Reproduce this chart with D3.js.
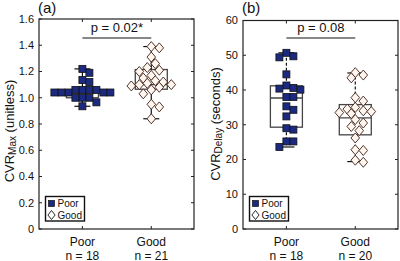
<!DOCTYPE html>
<html><head><meta charset="utf-8">
<script src="https://cdn.jsdelivr.net/npm/d3@7"></script>
<style>body{margin:0;background:#fff;} svg{display:block;font-family:"Liberation Sans",Arial,sans-serif;}</style>
</head><body><svg id="c" width="400" height="261"></svg>
<script>
const categories = ["Poor", "Good"];
const cvrMaxPoor = [1.22,1.19,1.135,1.12,1.06,1.06,1.06,1.06,1.04,1.04,1.04,1.04,1.04,1.00,1.00,1.00,0.965,0.935];
const cvrMaxGood = [1.39,1.38,1.31,1.26,1.23,1.21,1.20,1.17,1.15,1.13,1.12,1.11,1.10,1.10,1.09,1.08,1.06,1.03,0.95,0.93,0.84];
const cvrDelayPoor = [50.7,49.7,49.4,44.5,41.3,40.6,40.4,40.1,38.0,38.0,35.3,34.3,32.4,29.0,28.6,25.2,25.2,23.6];
const cvrDelayGood = [45.0,44.3,43.5,37.8,36.8,35.0,34.5,34.0,33.8,33.5,33.2,31.5,30.5,29.5,28.3,26.2,22.8,22.6,19.8,19.2];
// box summaries: [lower whisker, Q1, median, Q3, upper whisker]
const cvrMaxBoxPoor = [0.935,1.00,1.04,1.06,1.22];
const cvrMaxBoxGood = [0.84,1.065,1.10,1.215,1.39];
const cvrDelayBoxPoor = [23.6,29.3,37.7,41.2,50.7];
const cvrDelayBoxGood = [19.4,27.1,32.0,35.8,44.9];
const cvrMaxTicks = [0,0.2,0.4,0.6,0.8,1.0,1.2,1.4,1.6];
const cvrMaxTickLabels = ["0","0.2","0.4","0.6","0.8","1.0","1.2","1.4","1.6"];
const cvrDelayTicks = [0,10,20,30,40,50,60];
const pLabels = ["p = 0.02*", "p = 0.08"];
const panelLabels = ["(a)", "(b)"];

const svg = d3.select("#c");
const SQ = "#1b2a80", DIA_FILL = "#fff6ee", DIA_STROKE = "#3e1e18";

const panels = [
  {left:39, top:19, groups:[cvrMaxPoor, cvrMaxGood], boxes:[cvrMaxBoxPoor, cvrMaxBoxGood],
   ticks:cvrMaxTicks, tickLabels:cvrMaxTickLabels, ymax:1.6, p:pLabels[0], tag:panelLabels[0],
   ylab:["CVR","Max"," (unitless)"], ylabX:14, ylabY:131, dash:null},
  {left:243, top:20.5, groups:[cvrDelayPoor, cvrDelayGood], boxes:[cvrDelayBoxPoor, cvrDelayBoxGood],
   ticks:cvrDelayTicks, tickLabels:cvrDelayTicks.map(String), ymax:60, p:pLabels[1], tag:panelLabels[1],
   ylab:["CVR","Delay"," (seconds)"], ylabX:220, ylabY:124, dash:"3,2"}
];

function swarm(vals, y, cx, size, diamond) {
  const placed = [];
  vals.forEach(v => {
    const py = y(v);
    for (let i = 0; i < 60; i++) {
      const k = i === 0 ? 0 : (i % 2 ? (i + 1) / 2 : -i / 2);
      const px = cx + k * size * 0.5;
      const hit = placed.some(q => {
        const dx = Math.abs(q.x - px), dy = Math.abs(q.y - py);
        return diamond ? (dx / size + dy / (size * 1.1)) < 1.0 : (dx < size * 0.95 && dy < size * 0.95);
      });
      if (!hit) { placed.push({x:px, y:py, v}); break; }
    }
  });
  return placed;
}

panels.forEach(P => {
  const W = 155, bottom = 229;
  const x = d3.scaleLinear().domain([0.37, 2.62]).range([P.left, P.left + W]);
  const y = d3.scaleLinear().domain([0, P.ymax]).range([bottom, P.top]);
  const g = svg.append("g");

  g.append("rect").attr("x", P.left).attr("y", P.top).attr("width", W).attr("height", bottom - P.top)
    .attr("fill", "none").attr("stroke", "#222").attr("stroke-width", 1.2);

  P.ticks.forEach((t, i) => {
    const yy = y(t);
    g.append("line").attr("x1", P.left).attr("x2", P.left + 3).attr("y1", yy).attr("y2", yy).attr("stroke", "#222");
    g.append("line").attr("x1", P.left + W).attr("x2", P.left + W - 3).attr("y1", yy).attr("y2", yy).attr("stroke", "#222");
    g.append("text").attr("x", P.left - 5).attr("y", yy).attr("dy", "0.36em").attr("text-anchor", "end")
      .attr("font-size", 11).attr("fill", "#111").text(P.tickLabels[i]);
  });
  categories.forEach((c, i) => {
    const xx = x(i + 1);
    g.append("line").attr("x1", xx).attr("x2", xx).attr("y1", bottom).attr("y2", bottom - 3).attr("stroke", "#222");
    g.append("line").attr("x1", xx).attr("x2", xx).attr("y1", P.top).attr("y2", P.top + 3).attr("stroke", "#222");
    g.append("text").attr("x", xx).attr("y", 245.5).attr("text-anchor", "middle").attr("font-size", 12).attr("fill", "#111").text(c);
    g.append("text").attr("x", xx).attr("y", 259.5).attr("text-anchor", "middle").attr("font-size", 12).attr("fill", "#111")
      .text("n = " + P.groups[i].length);
  });

  P.boxes.forEach((b, i) => {
    const cx = x(i + 1), hw = 16, cw = 8;
    const bg = g.append("g").attr("stroke", "#444").attr("stroke-width", 1.3).attr("fill", "none");
    bg.append("rect").attr("x", cx - hw).attr("y", y(b[3])).attr("width", 2 * hw).attr("height", y(b[1]) - y(b[3]));
    bg.append("line").attr("x1", cx - hw).attr("x2", cx + hw).attr("y1", y(b[2])).attr("y2", y(b[2]));
    const wl = bg.append("g").attr("stroke", "#111").attr("stroke-width", 1.2);
    wl.append("line").attr("x1", cx).attr("x2", cx).attr("y1", y(b[3])).attr("y2", y(b[4])).attr("stroke-dasharray", P.dash);
    wl.append("line").attr("x1", cx).attr("x2", cx).attr("y1", y(b[1])).attr("y2", y(b[0])).attr("stroke-dasharray", P.dash);
    wl.append("line").attr("x1", cx - cw).attr("x2", cx + cw).attr("y1", y(b[4])).attr("y2", y(b[4]));
    wl.append("line").attr("x1", cx - cw).attr("x2", cx + cw).attr("y1", y(b[0])).attr("y2", y(b[0]));
  });

  const poor = swarm(P.groups[0], y, x(1), 7, false);
  g.selectAll(".sq").data(poor).join("rect").attr("x", d => d.x - 3.5).attr("y", d => d.y - 3.5)
    .attr("width", 7).attr("height", 7).attr("fill", SQ).attr("stroke", "#111").attr("stroke-width", 0.8);
  const good = swarm(P.groups[1], y, x(2), 8, true);
  g.selectAll(".di").data(good).join("path")
    .attr("d", d => `M${d.x},${d.y - 5}L${d.x + 4.3},${d.y}L${d.x},${d.y + 5}L${d.x - 4.3},${d.y}Z`)
    .attr("fill", DIA_FILL).attr("stroke", DIA_STROKE).attr("stroke-width", 0.9);

  g.append("line").attr("x1", x(1)).attr("x2", x(2)).attr("y1", 38).attr("y2", 38).attr("stroke", "#111").attr("stroke-width", 1.2);
  g.append("text").attr("x", (x(1) + x(2)) / 2).attr("y", 31.5).attr("text-anchor", "middle").attr("font-size", 13).attr("fill", "#111").text(P.p);

  g.append("text").attr("x", P.left - 1).attr("y", 13).attr("font-size", 15).attr("fill", "#111").text(P.tag);

  const yl = g.append("text").attr("transform", `translate(${P.ylabX},${P.ylabY}) rotate(-90)`)
    .attr("text-anchor", "middle").attr("font-size", 13).attr("fill", "#111");
  yl.append("tspan").text(P.ylab[0]);
  yl.append("tspan").attr("font-size", 10).attr("dy", 1.5).text(P.ylab[1]);
  yl.append("tspan").attr("dy", -1.5).text(P.ylab[2]);

  const lx = P.left + 6.5, ly = 196.5;
  g.append("rect").attr("x", lx).attr("y", ly).attr("width", 39).attr("height", 24.5)
    .attr("fill", "#fff").attr("stroke", "#111").attr("stroke-width", 1.4);
  g.append("rect").attr("x", lx + 3).attr("y", ly + 4).attr("width", 6).attr("height", 6)
    .attr("fill", SQ).attr("stroke", "#111").attr("stroke-width", 0.7);
  g.append("text").attr("x", lx + 12).attr("y", ly + 10.5).attr("font-size", 10).attr("fill", "#111").text(categories[0]);
  const dx = lx + 6, dy = ly + 18.5;
  g.append("path").attr("d", `M${dx},${dy - 4.5}L${dx + 3.6},${dy}L${dx},${dy + 4.5}L${dx - 3.6},${dy}Z`)
    .attr("fill", "#fff").attr("stroke", "#111").attr("stroke-width", 0.9);
  g.append("text").attr("x", lx + 12).attr("y", ly + 22).attr("font-size", 10).attr("fill", "#111").text(categories[1]);
});
</script></body></html>
